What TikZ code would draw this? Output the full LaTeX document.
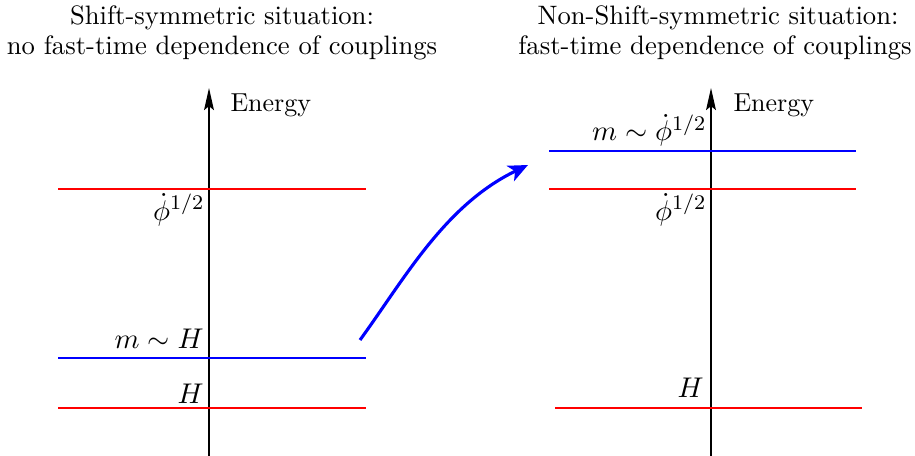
\documentclass[tikz,border=0pt]{standalone}
\usetikzlibrary{arrows.meta}
\begin{document}
\begin{tikzpicture}[x=0.3846pt,y=-0.3846pt,
  axis/.style={line width=0.5pt,-{Stealth[length=8.5pt,width=3.8pt,inset=1.5pt]}},
  redlvl/.style={red, line width=0.45pt},
  bluelvl/.style={blue, line width=0.45pt},
  lbl/.style={anchor=base east, inner sep=0pt, font=\fontsize{11.3}{13}\selectfont},
  ttl/.style={anchor=base, inner sep=0pt, font=\fontsize{10.25}{12}\selectfont},
  jump/.style={blue, line width=1.2pt, -{Stealth[length=7.5pt,width=6.5pt,inset=2pt]}}]
\useasboundingbox (0,0) rectangle (915,456);
% titles
\node[ttl] (tl1) at (222,25) {Shift-symmetric situation:};
\node[ttl] (tl2) at (222,55) {no fast-time dependence of couplings};
\node[ttl] (tr1) at (718,25) {Non-Shift-symmetric situation:};
\node[ttl] (tr2) at (715,55) {fast-time dependence of couplings};
% left panel
\coordinate (la0) at (209,456);
\coordinate (la1) at (209,88);
\draw[axis] (la0) -- (la1);
\node[anchor=west, inner sep=0pt] (le) at (230,105) {Energy};
\coordinate (lr1a) at (58,189); \coordinate (lr1b) at (366,189);
\coordinate (lba) at (58,358); \coordinate (lbb) at (366,358);
\coordinate (lr2a) at (58,408); \coordinate (lr2b) at (366,408);
\draw[redlvl] (lr1a) -- (lr1b);
\draw[bluelvl] (lba) -- (lbb);
\draw[redlvl] (lr2a) -- (lr2b);
\node[lbl] (lphi) at (205,220) {$\dot\phi^{1/2}$};
\node[lbl] (lmh) at (204,348) {$m\sim H$};
\node[lbl] (lh) at (204,403) {$H$};
% right panel
\coordinate (ra0) at (711,456);
\coordinate (ra1) at (711,88);
\draw[axis] (ra0) -- (ra1);
\node[anchor=west, inner sep=0pt] (re) at (733,105) {Energy};
\coordinate (rba) at (549,151); \coordinate (rbb) at (856,151);
\coordinate (rr1a) at (549,189); \coordinate (rr1b) at (856,189);
\coordinate (rr2a) at (555,408); \coordinate (rr2b) at (862,408);
\draw[bluelvl] (rba) -- (rbb);
\draw[redlvl] (rr1a) -- (rr1b);
\draw[redlvl] (rr2a) -- (rr2b);
\node[lbl] (rmphi) at (707,141) {$m\sim\dot\phi^{1/2}$};
\node[lbl] (rphi) at (707,220) {$\dot\phi^{1/2}$};
\node[lbl] (rh) at (704,397) {$H$};
% transition arrow
\coordinate (js) at (360,340);
\coordinate (je) at (528,165);
\draw[jump] (js) .. controls (405,278) and (445,205) .. (je);
\end{tikzpicture}
\end{document}
